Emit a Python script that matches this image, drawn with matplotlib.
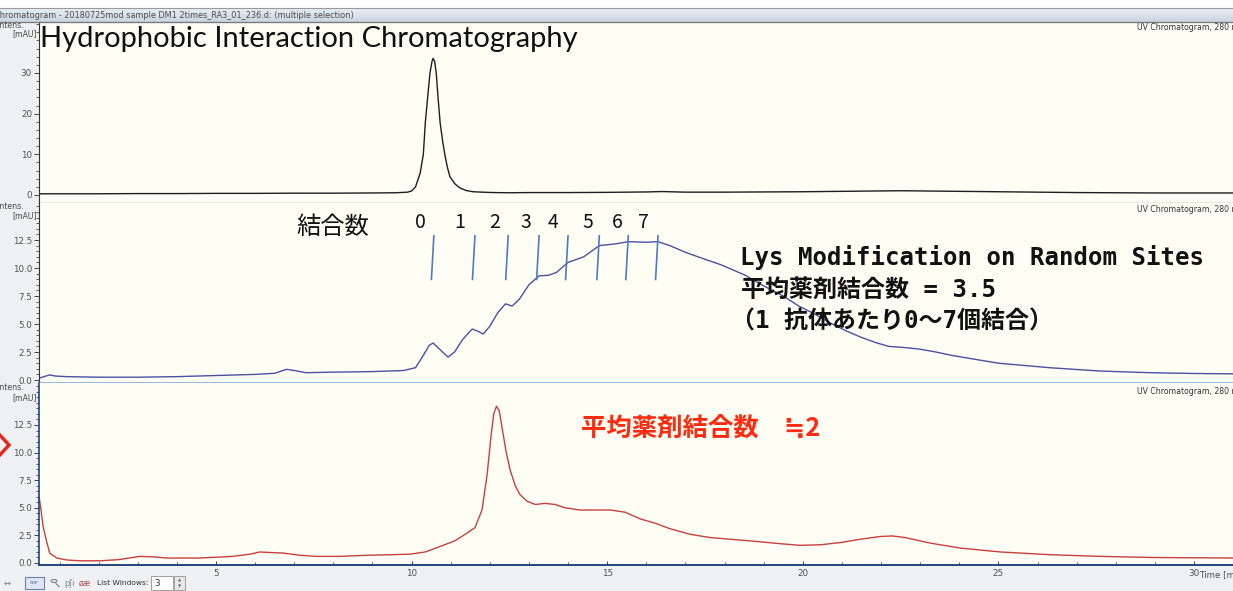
import matplotlib
matplotlib.use("Agg")
import matplotlib.pyplot as plt
from matplotlib.lines import Line2D
from matplotlib.patches import Rectangle, Circle
from matplotlib.ticker import MultipleLocator, FixedLocator
import numpy as np

# ---------------- data ----------------
T_BLACK = [0.47, 1, 2, 3, 4, 5, 6, 7, 8, 9, 9.6, 9.9, 10.0, 10.1, 10.22, 10.3, 10.35, 10.42,
           10.47, 10.52, 10.55, 10.59, 10.63, 10.68, 10.73, 10.8, 10.86, 10.92, 10.98, 11.1,
           11.24, 11.4, 11.57, 11.8, 12.08, 12.5, 13, 14, 15, 16, 16.4, 17, 18, 19, 20, 21,
           22, 22.5, 23, 24, 25, 26, 27, 28, 29, 30, 31]
Y_BLACK = [0.3, 0.3, 0.3, 0.35, 0.35, 0.4, 0.4, 0.45, 0.45, 0.5, 0.55, 0.7, 1.0, 2.0, 5.4, 10,
           17.7, 25, 30, 32.8, 33.6, 32.8, 30, 23.5, 17.7, 12.8, 9.4, 6.6, 4.5, 2.8,
           1.7, 1.1, 0.8, 0.7, 0.6, 0.55, 0.6, 0.6, 0.65, 0.75, 0.85, 0.7, 0.7, 0.75, 0.8, 0.9,
           1.0, 1.05, 1.0, 0.9, 0.8, 0.7, 0.6, 0.55, 0.5, 0.5, 0.5]

T_BLUE = [0.47, 0.6, 0.75, 0.9, 1.2, 2, 3, 4, 5, 6, 6.5, 6.8, 7.0, 7.3, 8, 9, 9.8, 10.1, 10.3,
          10.45, 10.55, 10.7, 10.93, 11.1, 11.3, 11.55, 11.7, 11.83, 12.0, 12.2, 12.4, 12.57,
          12.75, 13.0, 13.26, 13.5, 13.7, 14.0, 14.4, 14.8, 15.2, 15.54, 16.0, 16.3, 16.6,
          17.0, 17.4, 17.9, 18.5, 19.0, 19.5, 19.9, 20.3, 20.7, 21.1, 21.5, 21.9, 22.2, 22.6,
          23.0, 23.4, 23.8, 24.4, 25.0, 26.3, 27.6, 28.9, 30, 31]
Y_BLUE = [0.15, 0.3, 0.45, 0.35, 0.3, 0.25, 0.25, 0.3, 0.4, 0.5, 0.6, 0.95, 0.85, 0.65, 0.7,
          0.75, 0.85, 1.1, 2.2, 3.1, 3.3, 2.8, 2.05, 2.5, 3.6, 4.55, 4.35, 4.1, 4.8, 6.0, 6.8,
          6.6, 7.2, 8.5, 9.3, 9.35, 9.6, 10.5, 11.0, 12.0, 12.15, 12.35, 12.3, 12.35, 12.0,
          11.4, 10.9, 10.3, 9.4, 8.4, 7.5, 6.6, 5.9, 5.1, 4.4, 3.8, 3.3, 3.0, 2.9,
          2.75, 2.5, 2.2, 1.85, 1.5, 1.1, 0.8, 0.65, 0.58, 0.55]

T_RED = [0.47, 0.52, 0.58, 0.68, 0.75, 0.93, 1.19, 1.52, 2.03, 2.5, 3.06, 3.44, 3.75, 4.59,
         5.43, 5.87, 6.12, 6.38, 6.71, 7.15, 7.58, 8.17, 8.86, 9.45, 9.96, 10.35, 10.73,
         11.1, 11.37, 11.62, 11.8, 11.93, 12.03, 12.1, 12.17, 12.24, 12.31, 12.42, 12.52,
         12.65, 12.77, 12.95, 13.16, 13.41, 13.67, 13.92, 14.31, 14.69, 15.08, 15.46, 15.84,
         16.23, 16.61, 17.12, 17.64, 18.66, 19.42, 19.93, 20.45, 20.96, 21.47, 21.98, 22.29,
         22.62, 23.26, 24.03, 25.05, 26.33, 27.61, 28.9, 31.0]
Y_RED = [6.2, 5.0, 3.3, 1.8, 0.9, 0.45, 0.27, 0.2, 0.2, 0.3, 0.6, 0.55, 0.45, 0.45,
         0.6, 0.8, 1.0, 0.95, 0.9, 0.7, 0.6, 0.6, 0.7, 0.75, 0.8, 1.0, 1.5,
         2.0, 2.6, 3.2, 4.8, 8.0, 11.5, 13.5, 14.2, 13.8, 12.3, 10.0, 8.4,
         7.0, 6.2, 5.6, 5.3, 5.4, 5.3, 5.0, 4.8, 4.8, 4.8, 4.6, 4.0,
         3.6, 3.1, 2.6, 2.3, 2.0, 1.75, 1.6, 1.65, 1.85, 2.15, 2.4, 2.45,
         2.3, 1.8, 1.35, 1.0, 0.75, 0.6, 0.5, 0.45]

DAR_LABELS = ['0', '1', '2', '3', '4', '5', '6', '7']
DAR_LABEL_T = [10.22, 11.24, 12.11, 12.93, 13.62, 14.51, 15.26, 15.92]
DAR_MARK_T = [10.57, 11.62, 12.47, 13.26, 14.0, 14.8, 15.54, 16.3]

TOP_TICKS = [0, 10, 20, 30]
MID_TICKS = [0.0, 2.5, 5.0, 7.5, 10.0, 12.5]
X_TICKS = [5, 10, 15, 20, 25, 30]

# ---------------- figure ----------------
W, H = 1233, 591
fig = plt.figure(figsize=(W / 100, H / 100), dpi=100)
fig.patch.set_facecolor('#eef0f1')


def px_axes(x0, y0, x1, y1, **kw):
    return fig.add_axes([x0 / W, 1 - y1 / H, (x1 - x0) / W, (y1 - y0) / H], **kw)


def fpx(x, y):
    return (x / W, 1 - y / H)


# white strip at very top and title bar gradient
fig.patches.append(Rectangle(fpx(0, 8), 1, 8 / H, transform=fig.transFigure,
                             facecolor='white', edgecolor='none', zorder=0))
gax = px_axes(0, 8, W, 22)
grad = np.linspace(0, 1, 50).reshape(-1, 1)
gax.imshow(grad, aspect='auto', cmap=matplotlib.colors.LinearSegmentedColormap.from_list(
    'g', ['#e9eef4', '#c9d5e2']), extent=(0, 1, 0, 1))
gax.set_axis_off()
fig.add_artist(Line2D([0, 1], [1 - 8 / H] * 2, color='#9a9a9a', lw=0.8, transform=fig.transFigure))
fig.add_artist(Line2D([0, 1], [1 - 22 / H] * 2, color='#7a7a7a', lw=0.9, transform=fig.transFigure))
fig.text(-6 / W, 1 - 15 / H,
         'Chromatogram - 20180725mod sample DM1 2times_RA3_01_236.d: (multiple selection)',
         fontsize=5.9, color='#4a4a4a', va='center', ha='left', family='DejaVu Sans')

XLIM = ((39 - 20.4) / 39.12, (1233 - 20.4) / 39.12)
CREAM = '#fffef5'
TICKCOL = '#505050'

ax1 = px_axes(39, 22, 1233, 203)
ax2 = px_axes(39, 203, 1233, 383)
ax3 = px_axes(39, 383, 1233, 565)

ax1.set_ylim((195 - 203) / 4.067, (195 - 22) / 4.067)
ax2.set_ylim((380 - 383) / 11.2, (380 - 203) / 11.2)
ax3.set_ylim((563 - 565) / 11.04, (563 - 383) / 11.04)

for ax in (ax1, ax2, ax3):
    ax.set_facecolor(CREAM)
    ax.set_xlim(*XLIM)
    ax.spines['right'].set_visible(False)
    ax.tick_params(axis='y', which='major', direction='out', length=3.5, width=0.7,
                   labelsize=6.3, labelcolor=TICKCOL, pad=1.5, color='#444444')
    ax.tick_params(axis='y', which='minor', direction='out', length=2, width=0.6, color='#444444')

ax1.yaxis.set_major_locator(FixedLocator(TOP_TICKS))
ax1.yaxis.set_minor_locator(MultipleLocator(2))
ax1.set_yticklabels([str(v) for v in TOP_TICKS])
for ax in (ax2, ax3):
    ax.yaxis.set_major_locator(FixedLocator(MID_TICKS))
    ax.yaxis.set_minor_locator(MultipleLocator(0.5))
    ax.set_yticklabels([f'{v:.1f}' for v in MID_TICKS])

for ax in (ax1, ax2):
    ax.set_xticks([])
    ax.tick_params(axis='x', which='both', length=0)

ax1.spines['top'].set_color('#777777')
ax1.spines['left'].set_color('#333333')
ax1.spines['bottom'].set_color('#555555')
ax1.spines['bottom'].set_linewidth(0.9)
ax2.spines['top'].set_visible(False)
ax2.spines['left'].set_color('#333333')
ax2.spines['bottom'].set_color('#8db2da')
ax2.spines['bottom'].set_linewidth(1.3)
ax3.spines['top'].set_visible(False)
ax3.spines['left'].set_color('#23457c')
ax3.spines['left'].set_linewidth(1.2)
ax3.spines['bottom'].set_color('#23457c')
ax3.spines['bottom'].set_linewidth(1.4)
ax3.tick_params(axis='y', which='both', color='#23457c')

ax3.xaxis.set_major_locator(FixedLocator(X_TICKS))
ax3.xaxis.set_minor_locator(MultipleLocator(1))
ax3.set_xticklabels([str(v) for v in X_TICKS])
ax3.tick_params(axis='x', which='major', direction='in', length=3, width=0.7, color='#23457c',
                labelsize=6.3, labelcolor=TICKCOL, pad=3)
ax3.tick_params(axis='x', which='minor', direction='in', length=2.5, width=0.6, color='#23457c')

# curves
ax1.plot(T_BLACK, Y_BLACK, color='#1e1e1e', lw=1.0)
ax2.plot(T_BLUE, Y_BLUE, color='#4b4fa6', lw=1.0)
ax3.plot(T_RED, Y_RED, color='#c8403f', lw=1.0)

# panel labels
for (ytop, yb) in ((25, 34), (206, 216), (388, 398)):
    fig.text(-3 / W, 1 - ytop / H, 'intens.', fontsize=5.6, color='#4a4a4a', va='center',
             ha='left', family='DejaVu Sans')
    fig.text(37 / W, 1 - yb / H, '[mAU]', fontsize=5.6, color='#4a4a4a', va='center',
             ha='right', family='DejaVu Sans')
for yy in (28, 210, 391):
    fig.text(1137 / W, 1 - yy / H, 'UV Chromatogram, 280 nm', fontsize=5.6, color='#333333',
             va='center', ha='left', family='DejaVu Sans')

# title
fig.text(40 / W, 1 - 47 / H, 'Hydrophobic Interaction Chromatography', fontsize=21,
         family='Lato', color='#111111', va='baseline', ha='left')

# DAR annotation in middle panel
for t in DAR_MARK_T:
    ax2.plot([t, t - 0.065], [12.95, 8.9], color='#4a7cc4', lw=1.2, solid_capstyle='butt')
for lab, t in zip(DAR_LABELS, DAR_LABEL_T):
    ax2.text(t, 14.1, lab, fontsize=14, family='Noto Sans CJK JP', ha='center', va='center',
             color='#111111')
fig.text(333 / W, 1 - 227 / H, '結合数', fontsize=17.5, family='Noto Sans CJK JP',
         ha='center', va='center', color='#111111')

FAM = ['DejaVu Sans Mono', 'Noto Sans CJK JP']
fig.text(740 / W, 1 - 257 / H, 'Lys Modification on Random Sites', fontsize=17.3,
         family=FAM, weight='bold', ha='left', va='center', color='#111111')
fig.text(741 / W, 1 - 290 / H, '平均薬剤結合数 = 3.5', fontsize=17.3,
         family=FAM, weight='bold', ha='left', va='center', color='#111111')
fig.text(731 / W, 1 - 322 / H, '（1 抗体あたり0～7個結合）', fontsize=17.3,
         family=FAM, weight='bold', ha='left', va='center', color='#111111')

fig.text(581 / W, 1 - 428 / H, '平均薬剤結合数　≒2', fontsize=18.3,
         family=['Noto Sans CJK JP', 'DejaVu Sans'], weight='bold', ha='left', va='center',
         color='#ff2b10')

# red chevron at left edge
fig.add_artist(Line2D([-2 / W, 9 / W, -2 / W], [1 - 433 / H, 1 - 445 / H, 1 - 457 / H],
                      color='#e8241a', lw=2.4, transform=fig.transFigure,
                      solid_joinstyle='miter'))

# time axis label
fig.text(1199 / W, 1 - 575 / H, 'Time [min]', fontsize=6.3, color=TICKCOL, va='center',
         ha='left', family='DejaVu Sans')

# bottom toolbar
fig.text(4 / W, 1 - 583 / H, '↔', fontsize=6, color='#777777', va='center', ha='left',
         family='DejaVu Sans')
fig.patches.append(Rectangle(fpx(25, 589), 19 / W, 12 / H, transform=fig.transFigure,
                             facecolor='#dde6f2', edgecolor='#6d82aa', lw=0.8))
fig.text(34.5 / W, 1 - 583 / H, 'SHP', fontsize=3.2, color='#4d6590', va='center',
         ha='center', family='DejaVu Sans')
fig.patches.append(Circle(fpx(54, 581), 3 / W, transform=fig.transFigure,
                          facecolor='none', edgecolor='#777777', lw=0.7))
fig.add_artist(Line2D([56 / W, 59 / W], [1 - 583.5 / H, 1 - 586.5 / H], color='#777777',
                      lw=0.8, transform=fig.transFigure))
fig.text(64 / W, 1 - 583 / H, 'pʃı', fontsize=6, color='#888888', va='center', ha='left',
         family='DejaVu Sans')
fig.text(79 / W, 1 - 583 / H, 'øæ', fontsize=5.5, color='#b05050', va='center', ha='left',
         family='DejaVu Sans')
fig.text(97 / W, 1 - 583 / H, 'List Windows:', fontsize=5.4, color='#333333', va='center',
         ha='left', family='DejaVu Sans')
fig.patches.append(Rectangle(fpx(151, 590), 22 / W, 14 / H, transform=fig.transFigure,
                             facecolor='white', edgecolor='#a0a0a0', lw=0.7))
fig.text(154 / W, 1 - 583 / H, '3', fontsize=6.3, color='#333333', va='center', ha='left',
         family='DejaVu Sans')
fig.patches.append(Rectangle(fpx(174, 590), 11 / W, 14 / H, transform=fig.transFigure,
                             facecolor='#e8e8e8', edgecolor='#a0a0a0', lw=0.7))
fig.text(179.5 / W, 1 - 580 / H, '▲', fontsize=3, color='#666666', va='center', ha='center',
         family='DejaVu Sans')
fig.text(179.5 / W, 1 - 586.5 / H, '▼', fontsize=3, color='#666666', va='center', ha='center',
         family='DejaVu Sans')

fig.savefig('out.png', dpi=100, facecolor=fig.get_facecolor())
